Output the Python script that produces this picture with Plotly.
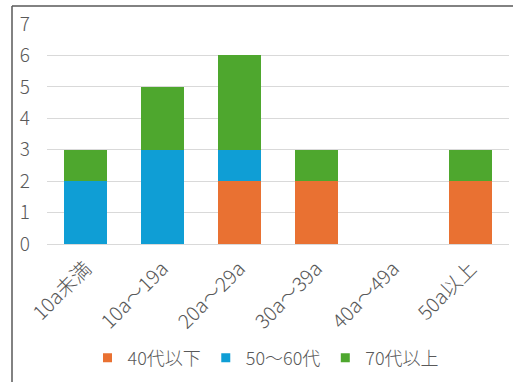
import plotly.graph_objects as go

categories = ["10a未満", "10a～19a", "20a～29a", "30a～39a", "40a～49a", "50a以上"]
series_names = ["40代以下", "50～60代", "70代以上"]
under40 = [0, 0, 2, 2, 0, 2]
age50_60 = [2, 3, 1, 0, 0, 0]
over70 = [1, 2, 3, 1, 0, 1]
colors = ["#E97132", "#0F9ED5", "#4EA72E"]
y_ticks = [0, 1, 2, 3, 4, 5, 6, 7]

FONT = "Noto Sans CJK JP"
TXT = "#595959"

fig = go.Figure()
for name, vals, col in zip(series_names, [under40, age50_60, over70], colors):
    fig.add_trace(go.Bar(x=categories, y=vals, name=name, showlegend=False,
                         marker=dict(color=col, line=dict(width=0))))
# legend entries with small square swatches
for name, col in zip(series_names, colors):
    fig.add_trace(go.Scatter(x=[None], y=[None], mode="markers", name=name,
                             marker=dict(symbol="square", size=9, color=col)))

W, H = 513, 382
L, R, T, B = 47, 4, 24, 138
pw = W - L - R
ph = H - T - B

def px_to_paper_x(px):
    return (px - L) / pw

def px_to_paper_y(py):
    return (H - B - py) / ph

fig.update_layout(
    width=W, height=H,
    margin=dict(l=L, r=R, t=T, b=B, autoexpand=False),
    barmode="stack",
    bargap=0.44,
    plot_bgcolor="white",
    paper_bgcolor="white",
    font=dict(family=FONT, color=TXT, size=15),
    showlegend=True,
    legend=dict(
        orientation="h",
        x=px_to_paper_x(266), xanchor="center",
        y=px_to_paper_y(358), yanchor="middle",
        font=dict(size=18, color=TXT, weight=300),
        bgcolor="rgba(0,0,0,0)",
        itemwidth=30,
        traceorder="normal",
    ),
    xaxis=dict(
        tickangle=-45,
        tickfont=dict(size=20, color=TXT, weight=300),
        showgrid=False,
        showline=False,
        zeroline=False,
        automargin=False,
        ticklabelstandoff=8,
    ),
    yaxis=dict(
        range=[0, 7],
        tickvals=y_ticks,
        tickfont=dict(size=19, color=TXT, weight=300),
        showgrid=True,
        gridcolor="#D9D9D9",
        gridwidth=1,
        zeroline=True,
        zerolinecolor="#D9D9D9",
        zerolinewidth=1,
        showline=False,
        ticklabelstandoff=16,
        automargin=False,
    ),
    shapes=[
        dict(type="line", xref="paper", yref="paper",
             x0=px_to_paper_x(12), x1=px_to_paper_x(513),
             y0=px_to_paper_y(6), y1=px_to_paper_y(6),
             line=dict(color="#595959", width=1.5)),
        dict(type="line", xref="paper", yref="paper",
             x0=px_to_paper_x(12), x1=px_to_paper_x(12),
             y0=px_to_paper_y(6), y1=px_to_paper_y(382),
             line=dict(color="#595959", width=1.5)),
    ],
)

fig.write_html("out.html")
